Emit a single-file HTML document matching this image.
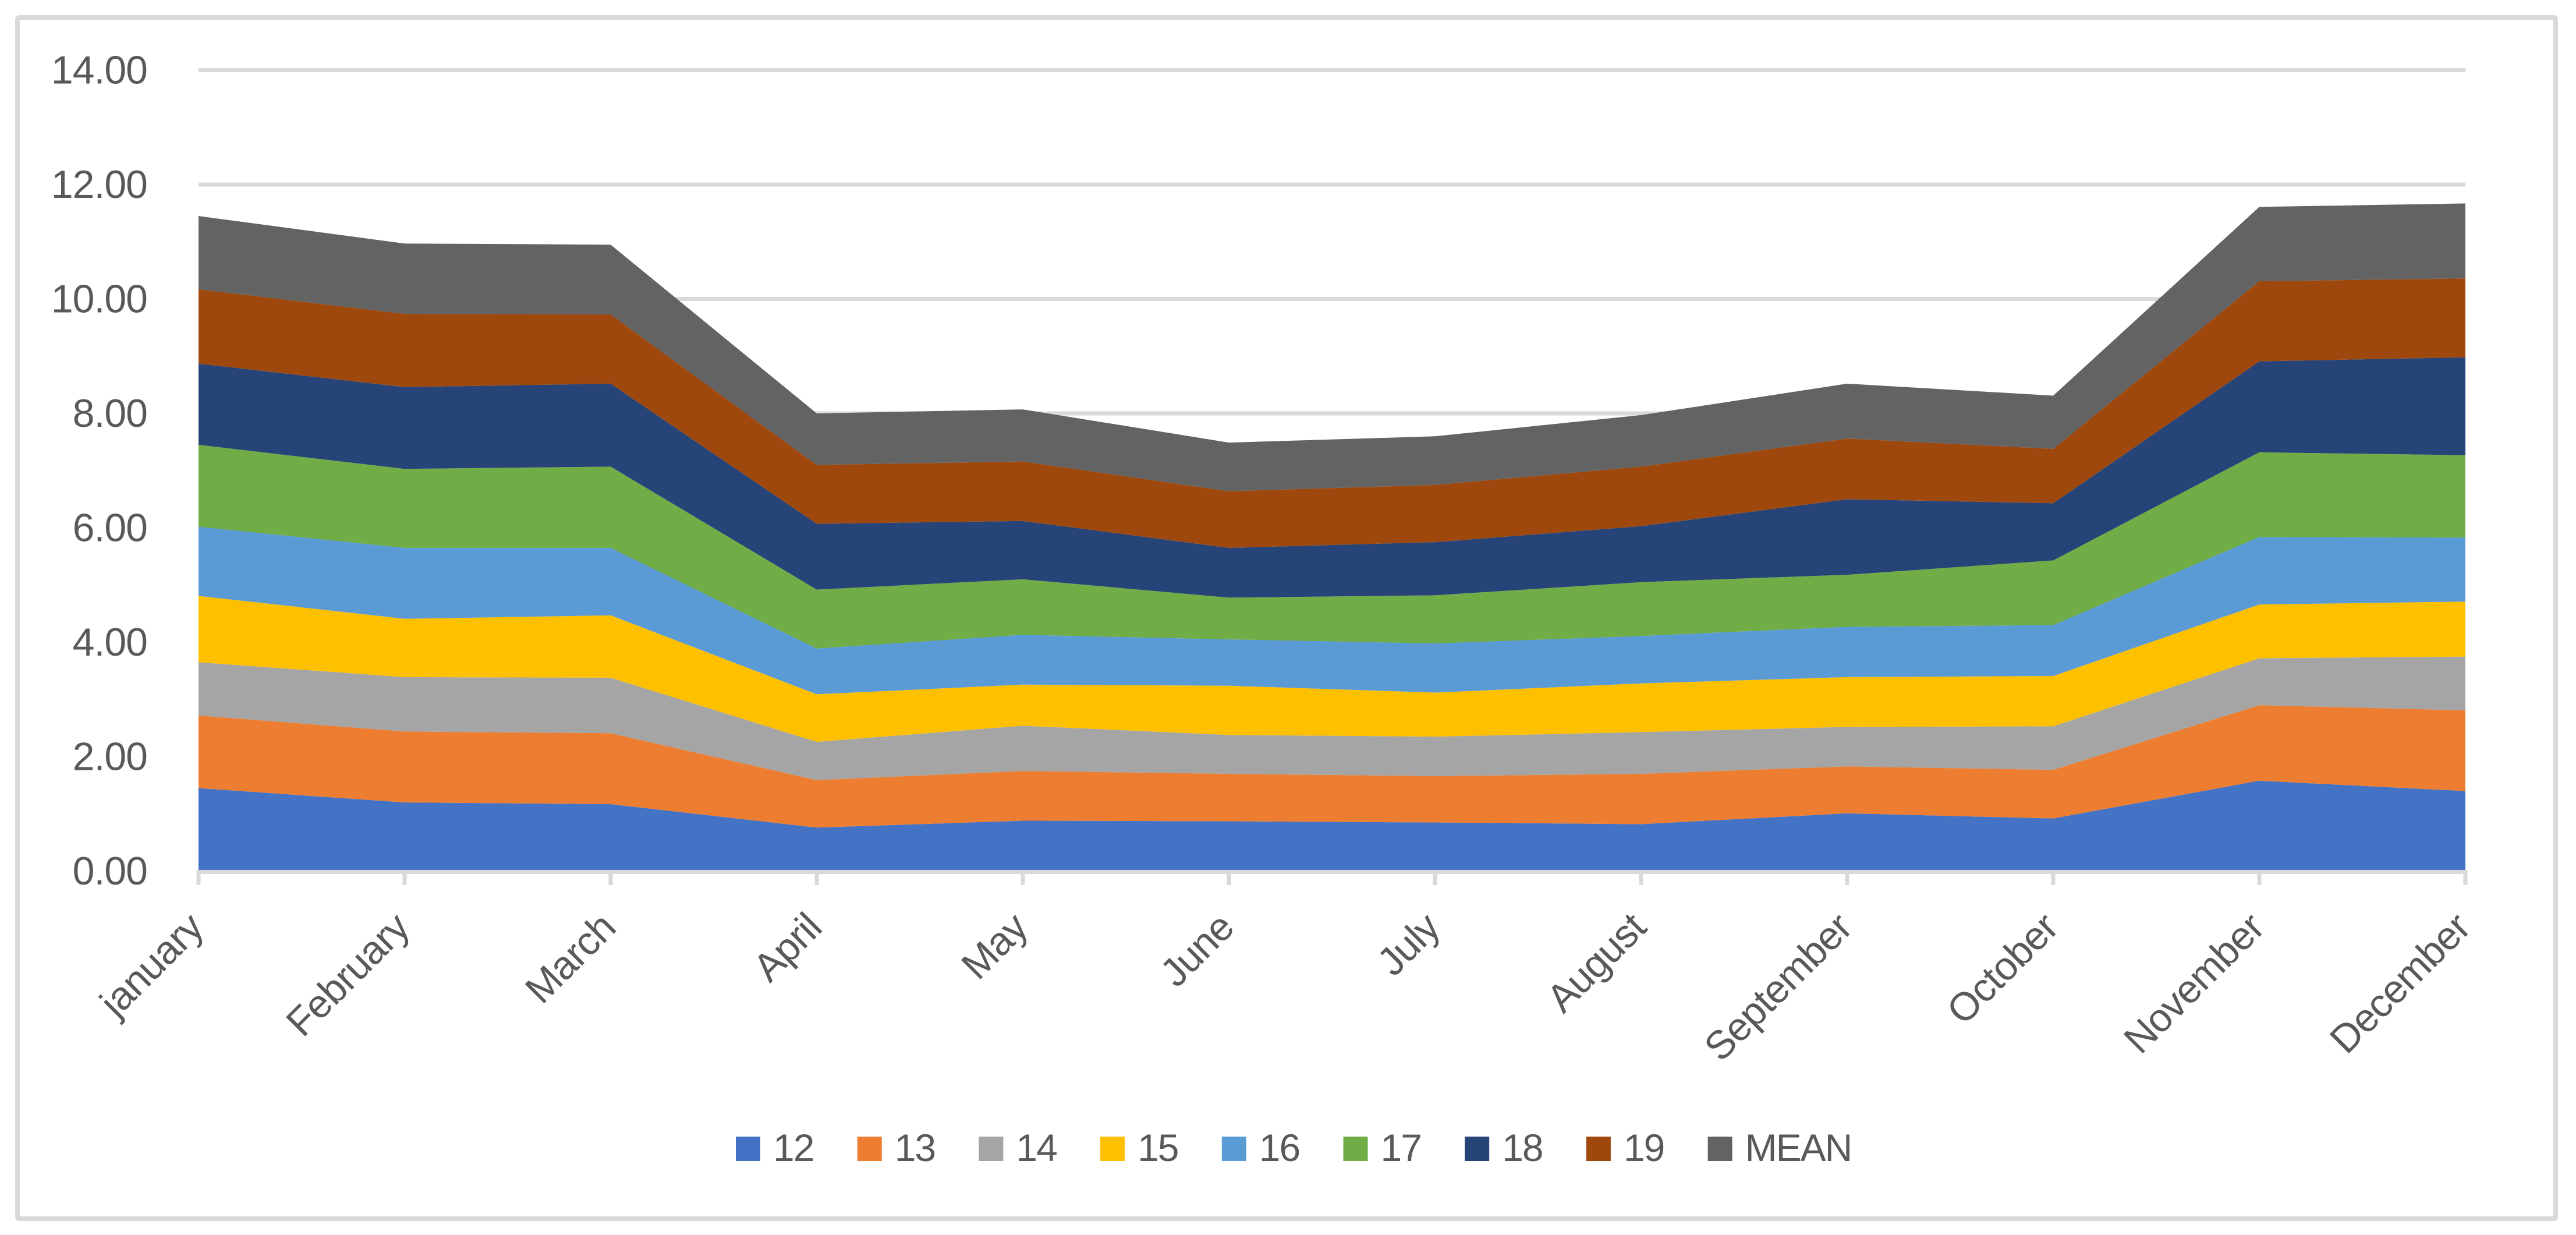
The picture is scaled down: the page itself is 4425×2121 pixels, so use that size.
<!DOCTYPE html>
<html lang="en">
<head>
<meta charset="utf-8">
<title>Monthly stacked area chart</title>
<style>
  html, body { margin: 0; padding: 0; background: #ffffff; }
  #chart { display: block; }
  text { font-family: "Liberation Sans", sans-serif; fill: #595959; }
</style>
</head>
<body>
<svg id="chart" xmlns="http://www.w3.org/2000/svg" width="4425" height="2121" viewBox="0 0 4425 2121">
  <rect x="0" y="0" width="4425" height="2121" fill="#ffffff"></rect>
  <rect x="30" y="30" width="4360" height="2063" rx="3" ry="3" fill="none" stroke="#d9d9d9" stroke-width="8"></rect>
  <g id="grid"></g>
  <g id="y-labels"></g>
  <g id="areas"></g>
  <g id="x-axis"></g>
  <g id="x-labels"></g>
  <g id="legend"></g>
</svg>
<script>
const months = ["january", "February", "March", "April", "May", "June", "July", "August", "September", "October", "November", "December"];
const yTicks = [0, 2, 4, 6, 8, 10, 12, 14];
const seriesNames = ["12", "13", "14", "15", "16", "17", "18", "19", "MEAN"];
const values12 = [1.45, 1.20, 1.17, 0.76, 0.88, 0.87, 0.85, 0.82, 1.01, 0.92, 1.58, 1.40];
const values13 = [1.27, 1.24, 1.24, 0.83, 0.87, 0.83, 0.81, 0.88, 0.82, 0.85, 1.32, 1.41];
const values14 = [0.93, 0.95, 0.97, 0.67, 0.79, 0.68, 0.69, 0.73, 0.69, 0.76, 0.82, 0.94];
const values15 = [1.16, 1.02, 1.09, 0.83, 0.72, 0.86, 0.77, 0.85, 0.87, 0.88, 0.94, 0.96];
const values16 = [1.21, 1.24, 1.18, 0.80, 0.87, 0.81, 0.86, 0.83, 0.88, 0.89, 1.18, 1.12];
const values17 = [1.43, 1.38, 1.42, 1.03, 0.97, 0.73, 0.84, 0.94, 0.91, 1.13, 1.48, 1.44];
const values18 = [1.42, 1.43, 1.45, 1.15, 1.02, 0.87, 0.93, 0.98, 1.32, 1.00, 1.59, 1.71];
const values19 = [1.30, 1.28, 1.21, 1.03, 1.04, 0.99, 1.00, 1.04, 1.06, 0.95, 1.40, 1.38];
const valuesMean = [1.28, 1.23, 1.22, 0.90, 0.91, 0.85, 0.85, 0.90, 0.96, 0.93, 1.30, 1.31];
const seriesValues = [values12, values13, values14, values15, values16, values17, values18, values19, valuesMean];
const seriesColors = ["#4472c4", "#ed7d31", "#a5a5a5", "#ffc000", "#5b9bd5", "#70ad47", "#264478", "#9e480e", "#636363"];

const NS = "http://www.w3.org/2000/svg";
const plotLeft = 341, plotRight = 4235, plotZero = 1496, plotTop = 120.5, yMax = 14;
const GRID = "#d9d9d9";

function xScale(i) { return plotLeft + (plotRight - plotLeft) * i / (months.length - 1); }
function yScale(v) { return plotZero - (plotZero - plotTop) * v / yMax; }
function make(tag, attrs, parent, content) {
  const el = document.createElementNS(NS, tag);
  for (const k in attrs) el.setAttribute(k, attrs[k]);
  if (content !== undefined) el.textContent = content;
  parent.appendChild(el);
  return el;
}

const gridG = document.getElementById("grid");
const yLabelG = document.getElementById("y-labels");
const areaG = document.getElementById("areas");
const xAxisG = document.getElementById("x-axis");
const xLabelG = document.getElementById("x-labels");
const legendG = document.getElementById("legend");

yTicks.forEach(function (t) {
  const y = yScale(t);
  if (t !== 0) {
    const line = make("line", { x1: plotLeft, x2: plotRight, y1: y, y2: y, stroke: GRID, "stroke-width": 7 }, gridG);
    
    
  }
  const label = make("text", { x: 253, y: y + 23, "text-anchor": "end", "font-size": 68, "letter-spacing": "-1" }, yLabelG, t.toFixed(2));
  
  
});

const running = months.map(function () { return 0; });
seriesValues.forEach(function (vals, s) {
  const lower = running.slice();
  vals.forEach(function (v, i) { running[i] += v; });
  const pts = [];
  running.forEach(function (v, i) { pts.push(xScale(i).toFixed(1) + "," + yScale(v).toFixed(1)); });
  for (let i = months.length - 1; i >= 0; i--) { pts.push(xScale(i).toFixed(1) + "," + yScale(lower[i]).toFixed(1)); }
  const area = make("polygon", { points: pts.join(" "), fill: seriesColors[s] }, areaG);
  
  
});

const axisLine = make("line", { x1: plotLeft - 3, x2: plotRight + 3, y1: plotZero + 1.5, y2: plotZero + 1.5, stroke: GRID, "stroke-width": 7 }, xAxisG);



months.forEach(function (m, i) {
  const x = xScale(i);
  const tick = make("line", { x1: x, x2: x, y1: plotZero, y2: plotZero + 24, stroke: GRID, "stroke-width": 7 }, xAxisG);
  
  
  const ax = x + 12, ay = plotZero + 101;
  const label = make("text", { x: ax, y: ay, "text-anchor": "end", "font-size": 68, "letter-spacing": "-1", transform: "rotate(-45 " + ax + " " + ay + ")" }, xLabelG, m);
  
  
});

const legendStart = 1264, legendStep = 208.7;
seriesNames.forEach(function (name, s) {
  const x = legendStart + legendStep * s;
  const swatch = make("rect", { x: x, y: 1952, width: 42, height: 42, fill: seriesColors[s] }, legendG);
  
  
  const label = make("text", { x: x + 64, y: 1994, "font-size": 66, "letter-spacing": "-2" }, legendG, name);
  
  
});
</script>
</body>
</html>
